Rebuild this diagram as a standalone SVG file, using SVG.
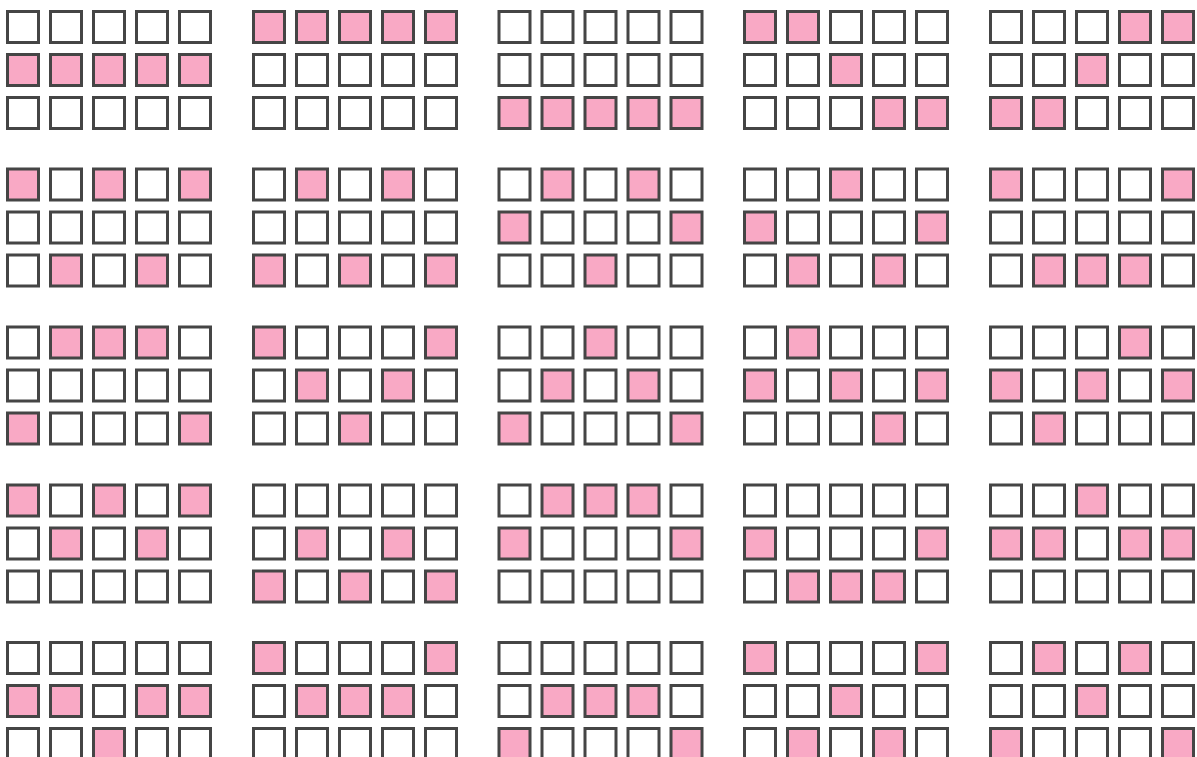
<svg xmlns="http://www.w3.org/2000/svg" xmlns:xlink="http://www.w3.org/1999/xlink" width="1197" height="757" viewBox="0 0 1197 757">
<defs>
<style>
.sq{stroke:#454545;stroke-width:3}
.e{fill:#ffffff}
.p{fill:#f9a9c5}
</style>
<rect id="e" class="sq e" x="1.5" y="1.5" width="31" height="31"/>
<rect id="p" class="sq p" x="1.5" y="1.5" width="31" height="31"/>
</defs>
<rect width="1197" height="757" fill="#ffffff"/>
<g id="b11" transform="translate(6,10)">
<use href="#e" x="0" y="0"/><use href="#e" x="43" y="0"/><use href="#e" x="86" y="0"/><use href="#e" x="129" y="0"/><use href="#e" x="172" y="0"/>
<use href="#p" x="0" y="43"/><use href="#p" x="43" y="43"/><use href="#p" x="86" y="43"/><use href="#p" x="129" y="43"/><use href="#p" x="172" y="43"/>
<use href="#e" x="0" y="86"/><use href="#e" x="43" y="86"/><use href="#e" x="86" y="86"/><use href="#e" x="129" y="86"/><use href="#e" x="172" y="86"/>
</g>
<g id="b12" transform="translate(252,10)">
<use href="#p" x="0" y="0"/><use href="#p" x="43" y="0"/><use href="#p" x="86" y="0"/><use href="#p" x="129" y="0"/><use href="#p" x="172" y="0"/>
<use href="#e" x="0" y="43"/><use href="#e" x="43" y="43"/><use href="#e" x="86" y="43"/><use href="#e" x="129" y="43"/><use href="#e" x="172" y="43"/>
<use href="#e" x="0" y="86"/><use href="#e" x="43" y="86"/><use href="#e" x="86" y="86"/><use href="#e" x="129" y="86"/><use href="#e" x="172" y="86"/>
</g>
<g id="b13" transform="translate(497.5,10)">
<use href="#e" x="0" y="0"/><use href="#e" x="43" y="0"/><use href="#e" x="86" y="0"/><use href="#e" x="129" y="0"/><use href="#e" x="172" y="0"/>
<use href="#e" x="0" y="43"/><use href="#e" x="43" y="43"/><use href="#e" x="86" y="43"/><use href="#e" x="129" y="43"/><use href="#e" x="172" y="43"/>
<use href="#p" x="0" y="86"/><use href="#p" x="43" y="86"/><use href="#p" x="86" y="86"/><use href="#p" x="129" y="86"/><use href="#p" x="172" y="86"/>
</g>
<g id="b14" transform="translate(743,10)">
<use href="#p" x="0" y="0"/><use href="#p" x="43" y="0"/><use href="#e" x="86" y="0"/><use href="#e" x="129" y="0"/><use href="#e" x="172" y="0"/>
<use href="#e" x="0" y="43"/><use href="#e" x="43" y="43"/><use href="#p" x="86" y="43"/><use href="#e" x="129" y="43"/><use href="#e" x="172" y="43"/>
<use href="#e" x="0" y="86"/><use href="#e" x="43" y="86"/><use href="#e" x="86" y="86"/><use href="#p" x="129" y="86"/><use href="#p" x="172" y="86"/>
</g>
<g id="b15" transform="translate(989,10)">
<use href="#e" x="0" y="0"/><use href="#e" x="43" y="0"/><use href="#e" x="86" y="0"/><use href="#p" x="129" y="0"/><use href="#p" x="172" y="0"/>
<use href="#e" x="0" y="43"/><use href="#e" x="43" y="43"/><use href="#p" x="86" y="43"/><use href="#e" x="129" y="43"/><use href="#e" x="172" y="43"/>
<use href="#p" x="0" y="86"/><use href="#p" x="43" y="86"/><use href="#e" x="86" y="86"/><use href="#e" x="129" y="86"/><use href="#e" x="172" y="86"/>
</g>
<g id="b21" transform="translate(6,167.5)">
<use href="#p" x="0" y="0"/><use href="#e" x="43" y="0"/><use href="#p" x="86" y="0"/><use href="#e" x="129" y="0"/><use href="#p" x="172" y="0"/>
<use href="#e" x="0" y="43"/><use href="#e" x="43" y="43"/><use href="#e" x="86" y="43"/><use href="#e" x="129" y="43"/><use href="#e" x="172" y="43"/>
<use href="#e" x="0" y="86"/><use href="#p" x="43" y="86"/><use href="#e" x="86" y="86"/><use href="#p" x="129" y="86"/><use href="#e" x="172" y="86"/>
</g>
<g id="b22" transform="translate(252,167.5)">
<use href="#e" x="0" y="0"/><use href="#p" x="43" y="0"/><use href="#e" x="86" y="0"/><use href="#p" x="129" y="0"/><use href="#e" x="172" y="0"/>
<use href="#e" x="0" y="43"/><use href="#e" x="43" y="43"/><use href="#e" x="86" y="43"/><use href="#e" x="129" y="43"/><use href="#e" x="172" y="43"/>
<use href="#p" x="0" y="86"/><use href="#e" x="43" y="86"/><use href="#p" x="86" y="86"/><use href="#e" x="129" y="86"/><use href="#p" x="172" y="86"/>
</g>
<g id="b23" transform="translate(497.5,167.5)">
<use href="#e" x="0" y="0"/><use href="#p" x="43" y="0"/><use href="#e" x="86" y="0"/><use href="#p" x="129" y="0"/><use href="#e" x="172" y="0"/>
<use href="#p" x="0" y="43"/><use href="#e" x="43" y="43"/><use href="#e" x="86" y="43"/><use href="#e" x="129" y="43"/><use href="#p" x="172" y="43"/>
<use href="#e" x="0" y="86"/><use href="#e" x="43" y="86"/><use href="#p" x="86" y="86"/><use href="#e" x="129" y="86"/><use href="#e" x="172" y="86"/>
</g>
<g id="b24" transform="translate(743,167.5)">
<use href="#e" x="0" y="0"/><use href="#e" x="43" y="0"/><use href="#p" x="86" y="0"/><use href="#e" x="129" y="0"/><use href="#e" x="172" y="0"/>
<use href="#p" x="0" y="43"/><use href="#e" x="43" y="43"/><use href="#e" x="86" y="43"/><use href="#e" x="129" y="43"/><use href="#p" x="172" y="43"/>
<use href="#e" x="0" y="86"/><use href="#p" x="43" y="86"/><use href="#e" x="86" y="86"/><use href="#p" x="129" y="86"/><use href="#e" x="172" y="86"/>
</g>
<g id="b25" transform="translate(989,167.5)">
<use href="#p" x="0" y="0"/><use href="#e" x="43" y="0"/><use href="#e" x="86" y="0"/><use href="#e" x="129" y="0"/><use href="#p" x="172" y="0"/>
<use href="#e" x="0" y="43"/><use href="#e" x="43" y="43"/><use href="#e" x="86" y="43"/><use href="#e" x="129" y="43"/><use href="#e" x="172" y="43"/>
<use href="#e" x="0" y="86"/><use href="#p" x="43" y="86"/><use href="#p" x="86" y="86"/><use href="#p" x="129" y="86"/><use href="#e" x="172" y="86"/>
</g>
<g id="b31" transform="translate(6,325.5)">
<use href="#e" x="0" y="0"/><use href="#p" x="43" y="0"/><use href="#p" x="86" y="0"/><use href="#p" x="129" y="0"/><use href="#e" x="172" y="0"/>
<use href="#e" x="0" y="43"/><use href="#e" x="43" y="43"/><use href="#e" x="86" y="43"/><use href="#e" x="129" y="43"/><use href="#e" x="172" y="43"/>
<use href="#p" x="0" y="86"/><use href="#e" x="43" y="86"/><use href="#e" x="86" y="86"/><use href="#e" x="129" y="86"/><use href="#p" x="172" y="86"/>
</g>
<g id="b32" transform="translate(252,325.5)">
<use href="#p" x="0" y="0"/><use href="#e" x="43" y="0"/><use href="#e" x="86" y="0"/><use href="#e" x="129" y="0"/><use href="#p" x="172" y="0"/>
<use href="#e" x="0" y="43"/><use href="#p" x="43" y="43"/><use href="#e" x="86" y="43"/><use href="#p" x="129" y="43"/><use href="#e" x="172" y="43"/>
<use href="#e" x="0" y="86"/><use href="#e" x="43" y="86"/><use href="#p" x="86" y="86"/><use href="#e" x="129" y="86"/><use href="#e" x="172" y="86"/>
</g>
<g id="b33" transform="translate(497.5,325.5)">
<use href="#e" x="0" y="0"/><use href="#e" x="43" y="0"/><use href="#p" x="86" y="0"/><use href="#e" x="129" y="0"/><use href="#e" x="172" y="0"/>
<use href="#e" x="0" y="43"/><use href="#p" x="43" y="43"/><use href="#e" x="86" y="43"/><use href="#p" x="129" y="43"/><use href="#e" x="172" y="43"/>
<use href="#p" x="0" y="86"/><use href="#e" x="43" y="86"/><use href="#e" x="86" y="86"/><use href="#e" x="129" y="86"/><use href="#p" x="172" y="86"/>
</g>
<g id="b34" transform="translate(743,325.5)">
<use href="#e" x="0" y="0"/><use href="#p" x="43" y="0"/><use href="#e" x="86" y="0"/><use href="#e" x="129" y="0"/><use href="#e" x="172" y="0"/>
<use href="#p" x="0" y="43"/><use href="#e" x="43" y="43"/><use href="#p" x="86" y="43"/><use href="#e" x="129" y="43"/><use href="#p" x="172" y="43"/>
<use href="#e" x="0" y="86"/><use href="#e" x="43" y="86"/><use href="#e" x="86" y="86"/><use href="#p" x="129" y="86"/><use href="#e" x="172" y="86"/>
</g>
<g id="b35" transform="translate(989,325.5)">
<use href="#e" x="0" y="0"/><use href="#e" x="43" y="0"/><use href="#e" x="86" y="0"/><use href="#p" x="129" y="0"/><use href="#e" x="172" y="0"/>
<use href="#p" x="0" y="43"/><use href="#e" x="43" y="43"/><use href="#p" x="86" y="43"/><use href="#e" x="129" y="43"/><use href="#p" x="172" y="43"/>
<use href="#e" x="0" y="86"/><use href="#p" x="43" y="86"/><use href="#e" x="86" y="86"/><use href="#e" x="129" y="86"/><use href="#e" x="172" y="86"/>
</g>
<g id="b41" transform="translate(6,483.5)">
<use href="#p" x="0" y="0"/><use href="#e" x="43" y="0"/><use href="#p" x="86" y="0"/><use href="#e" x="129" y="0"/><use href="#p" x="172" y="0"/>
<use href="#e" x="0" y="43"/><use href="#p" x="43" y="43"/><use href="#e" x="86" y="43"/><use href="#p" x="129" y="43"/><use href="#e" x="172" y="43"/>
<use href="#e" x="0" y="86"/><use href="#e" x="43" y="86"/><use href="#e" x="86" y="86"/><use href="#e" x="129" y="86"/><use href="#e" x="172" y="86"/>
</g>
<g id="b42" transform="translate(252,483.5)">
<use href="#e" x="0" y="0"/><use href="#e" x="43" y="0"/><use href="#e" x="86" y="0"/><use href="#e" x="129" y="0"/><use href="#e" x="172" y="0"/>
<use href="#e" x="0" y="43"/><use href="#p" x="43" y="43"/><use href="#e" x="86" y="43"/><use href="#p" x="129" y="43"/><use href="#e" x="172" y="43"/>
<use href="#p" x="0" y="86"/><use href="#e" x="43" y="86"/><use href="#p" x="86" y="86"/><use href="#e" x="129" y="86"/><use href="#p" x="172" y="86"/>
</g>
<g id="b43" transform="translate(497.5,483.5)">
<use href="#e" x="0" y="0"/><use href="#p" x="43" y="0"/><use href="#p" x="86" y="0"/><use href="#p" x="129" y="0"/><use href="#e" x="172" y="0"/>
<use href="#p" x="0" y="43"/><use href="#e" x="43" y="43"/><use href="#e" x="86" y="43"/><use href="#e" x="129" y="43"/><use href="#p" x="172" y="43"/>
<use href="#e" x="0" y="86"/><use href="#e" x="43" y="86"/><use href="#e" x="86" y="86"/><use href="#e" x="129" y="86"/><use href="#e" x="172" y="86"/>
</g>
<g id="b44" transform="translate(743,483.5)">
<use href="#e" x="0" y="0"/><use href="#e" x="43" y="0"/><use href="#e" x="86" y="0"/><use href="#e" x="129" y="0"/><use href="#e" x="172" y="0"/>
<use href="#p" x="0" y="43"/><use href="#e" x="43" y="43"/><use href="#e" x="86" y="43"/><use href="#e" x="129" y="43"/><use href="#p" x="172" y="43"/>
<use href="#e" x="0" y="86"/><use href="#p" x="43" y="86"/><use href="#p" x="86" y="86"/><use href="#p" x="129" y="86"/><use href="#e" x="172" y="86"/>
</g>
<g id="b45" transform="translate(989,483.5)">
<use href="#e" x="0" y="0"/><use href="#e" x="43" y="0"/><use href="#p" x="86" y="0"/><use href="#e" x="129" y="0"/><use href="#e" x="172" y="0"/>
<use href="#p" x="0" y="43"/><use href="#p" x="43" y="43"/><use href="#e" x="86" y="43"/><use href="#p" x="129" y="43"/><use href="#p" x="172" y="43"/>
<use href="#e" x="0" y="86"/><use href="#e" x="43" y="86"/><use href="#e" x="86" y="86"/><use href="#e" x="129" y="86"/><use href="#e" x="172" y="86"/>
</g>
<g id="b51" transform="translate(6,641)">
<use href="#e" x="0" y="0"/><use href="#e" x="43" y="0"/><use href="#e" x="86" y="0"/><use href="#e" x="129" y="0"/><use href="#e" x="172" y="0"/>
<use href="#p" x="0" y="43"/><use href="#p" x="43" y="43"/><use href="#e" x="86" y="43"/><use href="#p" x="129" y="43"/><use href="#p" x="172" y="43"/>
<use href="#e" x="0" y="86"/><use href="#e" x="43" y="86"/><use href="#p" x="86" y="86"/><use href="#e" x="129" y="86"/><use href="#e" x="172" y="86"/>
</g>
<g id="b52" transform="translate(252,641)">
<use href="#p" x="0" y="0"/><use href="#e" x="43" y="0"/><use href="#e" x="86" y="0"/><use href="#e" x="129" y="0"/><use href="#p" x="172" y="0"/>
<use href="#e" x="0" y="43"/><use href="#p" x="43" y="43"/><use href="#p" x="86" y="43"/><use href="#p" x="129" y="43"/><use href="#e" x="172" y="43"/>
<use href="#e" x="0" y="86"/><use href="#e" x="43" y="86"/><use href="#e" x="86" y="86"/><use href="#e" x="129" y="86"/><use href="#e" x="172" y="86"/>
</g>
<g id="b53" transform="translate(497.5,641)">
<use href="#e" x="0" y="0"/><use href="#e" x="43" y="0"/><use href="#e" x="86" y="0"/><use href="#e" x="129" y="0"/><use href="#e" x="172" y="0"/>
<use href="#e" x="0" y="43"/><use href="#p" x="43" y="43"/><use href="#p" x="86" y="43"/><use href="#p" x="129" y="43"/><use href="#e" x="172" y="43"/>
<use href="#p" x="0" y="86"/><use href="#e" x="43" y="86"/><use href="#e" x="86" y="86"/><use href="#e" x="129" y="86"/><use href="#p" x="172" y="86"/>
</g>
<g id="b54" transform="translate(743,641)">
<use href="#p" x="0" y="0"/><use href="#e" x="43" y="0"/><use href="#e" x="86" y="0"/><use href="#e" x="129" y="0"/><use href="#p" x="172" y="0"/>
<use href="#e" x="0" y="43"/><use href="#e" x="43" y="43"/><use href="#p" x="86" y="43"/><use href="#e" x="129" y="43"/><use href="#e" x="172" y="43"/>
<use href="#e" x="0" y="86"/><use href="#p" x="43" y="86"/><use href="#e" x="86" y="86"/><use href="#p" x="129" y="86"/><use href="#e" x="172" y="86"/>
</g>
<g id="b55" transform="translate(989,641)">
<use href="#e" x="0" y="0"/><use href="#p" x="43" y="0"/><use href="#e" x="86" y="0"/><use href="#p" x="129" y="0"/><use href="#e" x="172" y="0"/>
<use href="#e" x="0" y="43"/><use href="#e" x="43" y="43"/><use href="#p" x="86" y="43"/><use href="#e" x="129" y="43"/><use href="#e" x="172" y="43"/>
<use href="#p" x="0" y="86"/><use href="#e" x="43" y="86"/><use href="#e" x="86" y="86"/><use href="#e" x="129" y="86"/><use href="#p" x="172" y="86"/>
</g>
</svg>
